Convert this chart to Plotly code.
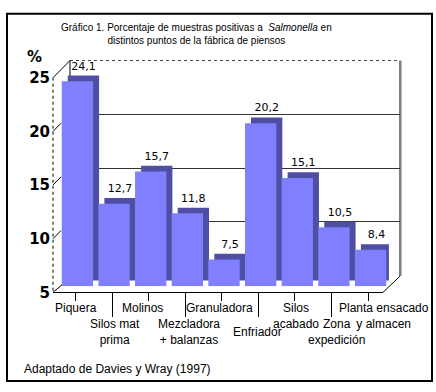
import plotly.graph_objects as go

# ---------------- data ----------------
categories = ["Piquera", "Silos mat prima", "Molinos", "Mezcladora + balanzas",
              "Granuladora", "Enfriador", "Silos acabado", "Zona expedición",
              "Planta ensacado y almacen"]
values = [24.1, 12.7, 15.7, 11.8, 7.5, 20.2, 15.1, 10.5, 8.4]
label_text = ["Piquera", "Silos mat<br>prima", "Molinos", "Mezcladora<br>+ balanzas",
              "Granuladora", "Enfriador", "Silos<br>acabado", "Zona<br>expedición",
              "Planta ensacado<br>y almacen"]
y_ticks = [5, 10, 15, 20, 25]
title_text = "Gráfico 1. Porcentaje de muestras positivas a  <i>Salmonella</i> en<br>distintos puntos de la fábrica de piensos"
source_text = "Adaptado de Davies y Wray (1997)"

# ---------------- layout helpers ----------------
W, H = 436, 392
def fx(p): return p / W
def fy(p): return 1 - p / H

FRONT = "#8080FF"
DARK = "#4E4EA2"
Y0, Y1 = 5, 25
PXU = 11.25            # pixels per y unit
DEPTH_PX = 6
BAR_W = 0.855
DX = DEPTH_PX / 36.64  # depth in category units
DY = DEPTH_PX / PXU    # depth in y units

value_text = [f"{v:.1f}".replace(".", ",") for v in values]
heights = [v - Y0 for v in values]

fig = go.Figure()

# back wall subplot (x / y) - only gridlines
fig.add_trace(go.Scatter(x=[0], y=[Y0], xaxis="x", yaxis="y", mode="markers",
                         marker=dict(opacity=0), showlegend=False, hoverinfo="skip"))
# front axis subplot (x2 / y2)
fig.add_trace(go.Scatter(x=categories, y=[Y0] * len(categories), xaxis="x2", yaxis="y2",
                         mode="markers", marker=dict(opacity=0), showlegend=False, hoverinfo="skip"))
fig.add_trace(go.Scatter(x=categories, y=[Y0] * len(categories), xaxis="x4", yaxis="y2",
                         mode="markers", marker=dict(opacity=0), showlegend=False, hoverinfo="skip"))
# bars (x3 / y3): dark depth behind, front face on top
fig.add_trace(go.Bar(x=categories, y=heights, base=Y0 + DY, xaxis="x3", yaxis="y3",
                     width=BAR_W, offset=-BAR_W / 2 + DX, marker=dict(color=DARK, line=dict(width=0)),
                     text=value_text, textposition="outside", cliponaxis=False,
                     constraintext="none",
                     textfont=dict(family="DejaVu Sans", size=11, color="black"),
                     showlegend=False, hoverinfo="skip"))
fig.add_trace(go.Bar(x=categories, y=heights, base=Y0, xaxis="x3", yaxis="y3",
                     width=BAR_W, offset=-BAR_W / 2, marker=dict(color=FRONT, line=dict(width=0)),
                     showlegend=False, hoverinfo="skip"))

annotations = []
# category labels, staggered in two rows
label_shift = [0, 2.5, -6, 4, -2, -1, 1, 5, 16]
for i, (cat, txt) in enumerate(zip(categories, label_text)):
    if i % 2 == 0:
        y, anchor = fy(305), "top"
    else:
        y, anchor = fy(338.5), "middle"
    annotations.append(dict(x=cat, xref="x2", y=y, yref="paper", text=txt,
                            showarrow=False, xanchor="center", yanchor=anchor,
                            xshift=label_shift[i], borderpad=0,
                            font=dict(family="Liberation Sans, Arial", size=12, color="black")))
annotations.append(dict(x=fx(196), y=fy(26.5), xref="paper", yref="paper", text=title_text,
                        showarrow=False, xanchor="center", yanchor="middle",
                        font=dict(family="Liberation Sans, Arial", size=10, color="black")))
annotations.append(dict(x=fx(22), y=fy(377), xref="paper", yref="paper", text=source_text,
                        showarrow=False, xanchor="left", yanchor="middle",
                        font=dict(family="Liberation Sans, Arial", size=12, color="black")))
annotations.append(dict(x=fx(34), y=fy(50), xref="paper", yref="paper", text="%",
                        showarrow=False, xanchor="center", yanchor="middle",
                        font=dict(family="DejaVu Sans", size=15, color="black", weight="bold")))

def pline(x0, y0, x1, y1, color="black", dash="solid", layer="above"):
    return dict(type="line", xref="paper", yref="paper", x0=fx(x0), x1=fx(x1),
                y0=fy(y0), y1=fy(y1), layer=layer, line=dict(color=color, width=1, dash=dash))

shapes = [
    # outer border
    dict(type="rect", xref="paper", yref="paper", x0=fx(7), x1=fx(432), y0=fy(5), y1=fy(390),
         line=dict(color="black", width=2)),
    # back wall frame (behind bars)
    pline(70, 54, 400, 54, "#444444", "dot", "below"),
    pline(70, 54, 70, 280, layer="below"),
    pline(400, 54, 400, 280, layer="below"),
    pline(401.5, 54, 401.5, 280, "#bbbbbb", layer="below"),
    # left wall
    pline(53, 72, 53, 297, dash="dot"),
    pline(53, 72, 70, 54),
    pline(53, 297, 62, 289),
    # floor right edge
    pline(383, 297, 400, 280),
]
for t in y_ticks[1:-1]:
    shapes.append(dict(type="line", xref="paper", yref="y2", x0=fx(53), x1=fx(61),
                       y0=t, y1=t + 8.5 / PXU, line=dict(color="black", width=1)))

fig.update_layout(
    width=W, height=H, margin=dict(l=0, r=0, t=0, b=0),
    paper_bgcolor="white", plot_bgcolor="rgba(0,0,0,0)",
    barmode="overlay", showlegend=False, hovermode=False,
    xaxis=dict(domain=[fx(70), fx(400)], range=[0, 1], anchor="y",
               showgrid=False, zeroline=False, showticklabels=False, ticks=""),
    yaxis=dict(domain=[fy(279.5), fy(54)], range=[Y0, Y1], anchor="x",
               tickmode="array", tickvals=[10, 15, 20], showgrid=True,
               gridcolor="#333333", gridwidth=1, zeroline=False,
               showticklabels=False, ticks=""),
    xaxis2=dict(domain=[fx(53), fx(383)], range=[-0.621, 8.41], anchor="y2", type="category",
                tickmode="array", tickvals=categories, showticklabels=False,
                ticks="outside", ticklen=8, tickcolor="black", tickwidth=1,
                showline=True, linecolor="black", linewidth=1, showgrid=False, zeroline=False),
    xaxis4=dict(domain=[fx(53), fx(383)], range=[-0.621, 8.41], anchor="y2", type="category",
                overlaying="x2", tickmode="array", tickvals=categories[1::2],
                showticklabels=False, ticks="outside", ticklen=24, tickcolor="black",
                tickwidth=1, showline=False, showgrid=False, zeroline=False),
    yaxis2=dict(domain=[fy(297), fy(72)], range=[Y0, Y1], anchor="x2",
                tickmode="array", tickvals=y_ticks, ticks="", showgrid=False, zeroline=False,
                showline=False, ticklabelstandoff=2,
                tickfont=dict(family="DejaVu Sans", size=15, color="black", weight="bold")),
    xaxis3=dict(domain=[fx(59.1), fx(388.9)], range=[-0.5, 8.5], anchor="y3", type="category",
                visible=False),
    yaxis3=dict(domain=[fy(290.7), fy(65.7)], range=[Y0, Y1], anchor="x3", visible=False),
    annotations=annotations, shapes=shapes,
)

fig.write_html("out.html", config={"displayModeBar": False, "staticPlot": True},
               post_script="document.body.style.margin='0';document.body.style.padding='0';"
                           "document.documentElement.style.overflow='hidden';")
